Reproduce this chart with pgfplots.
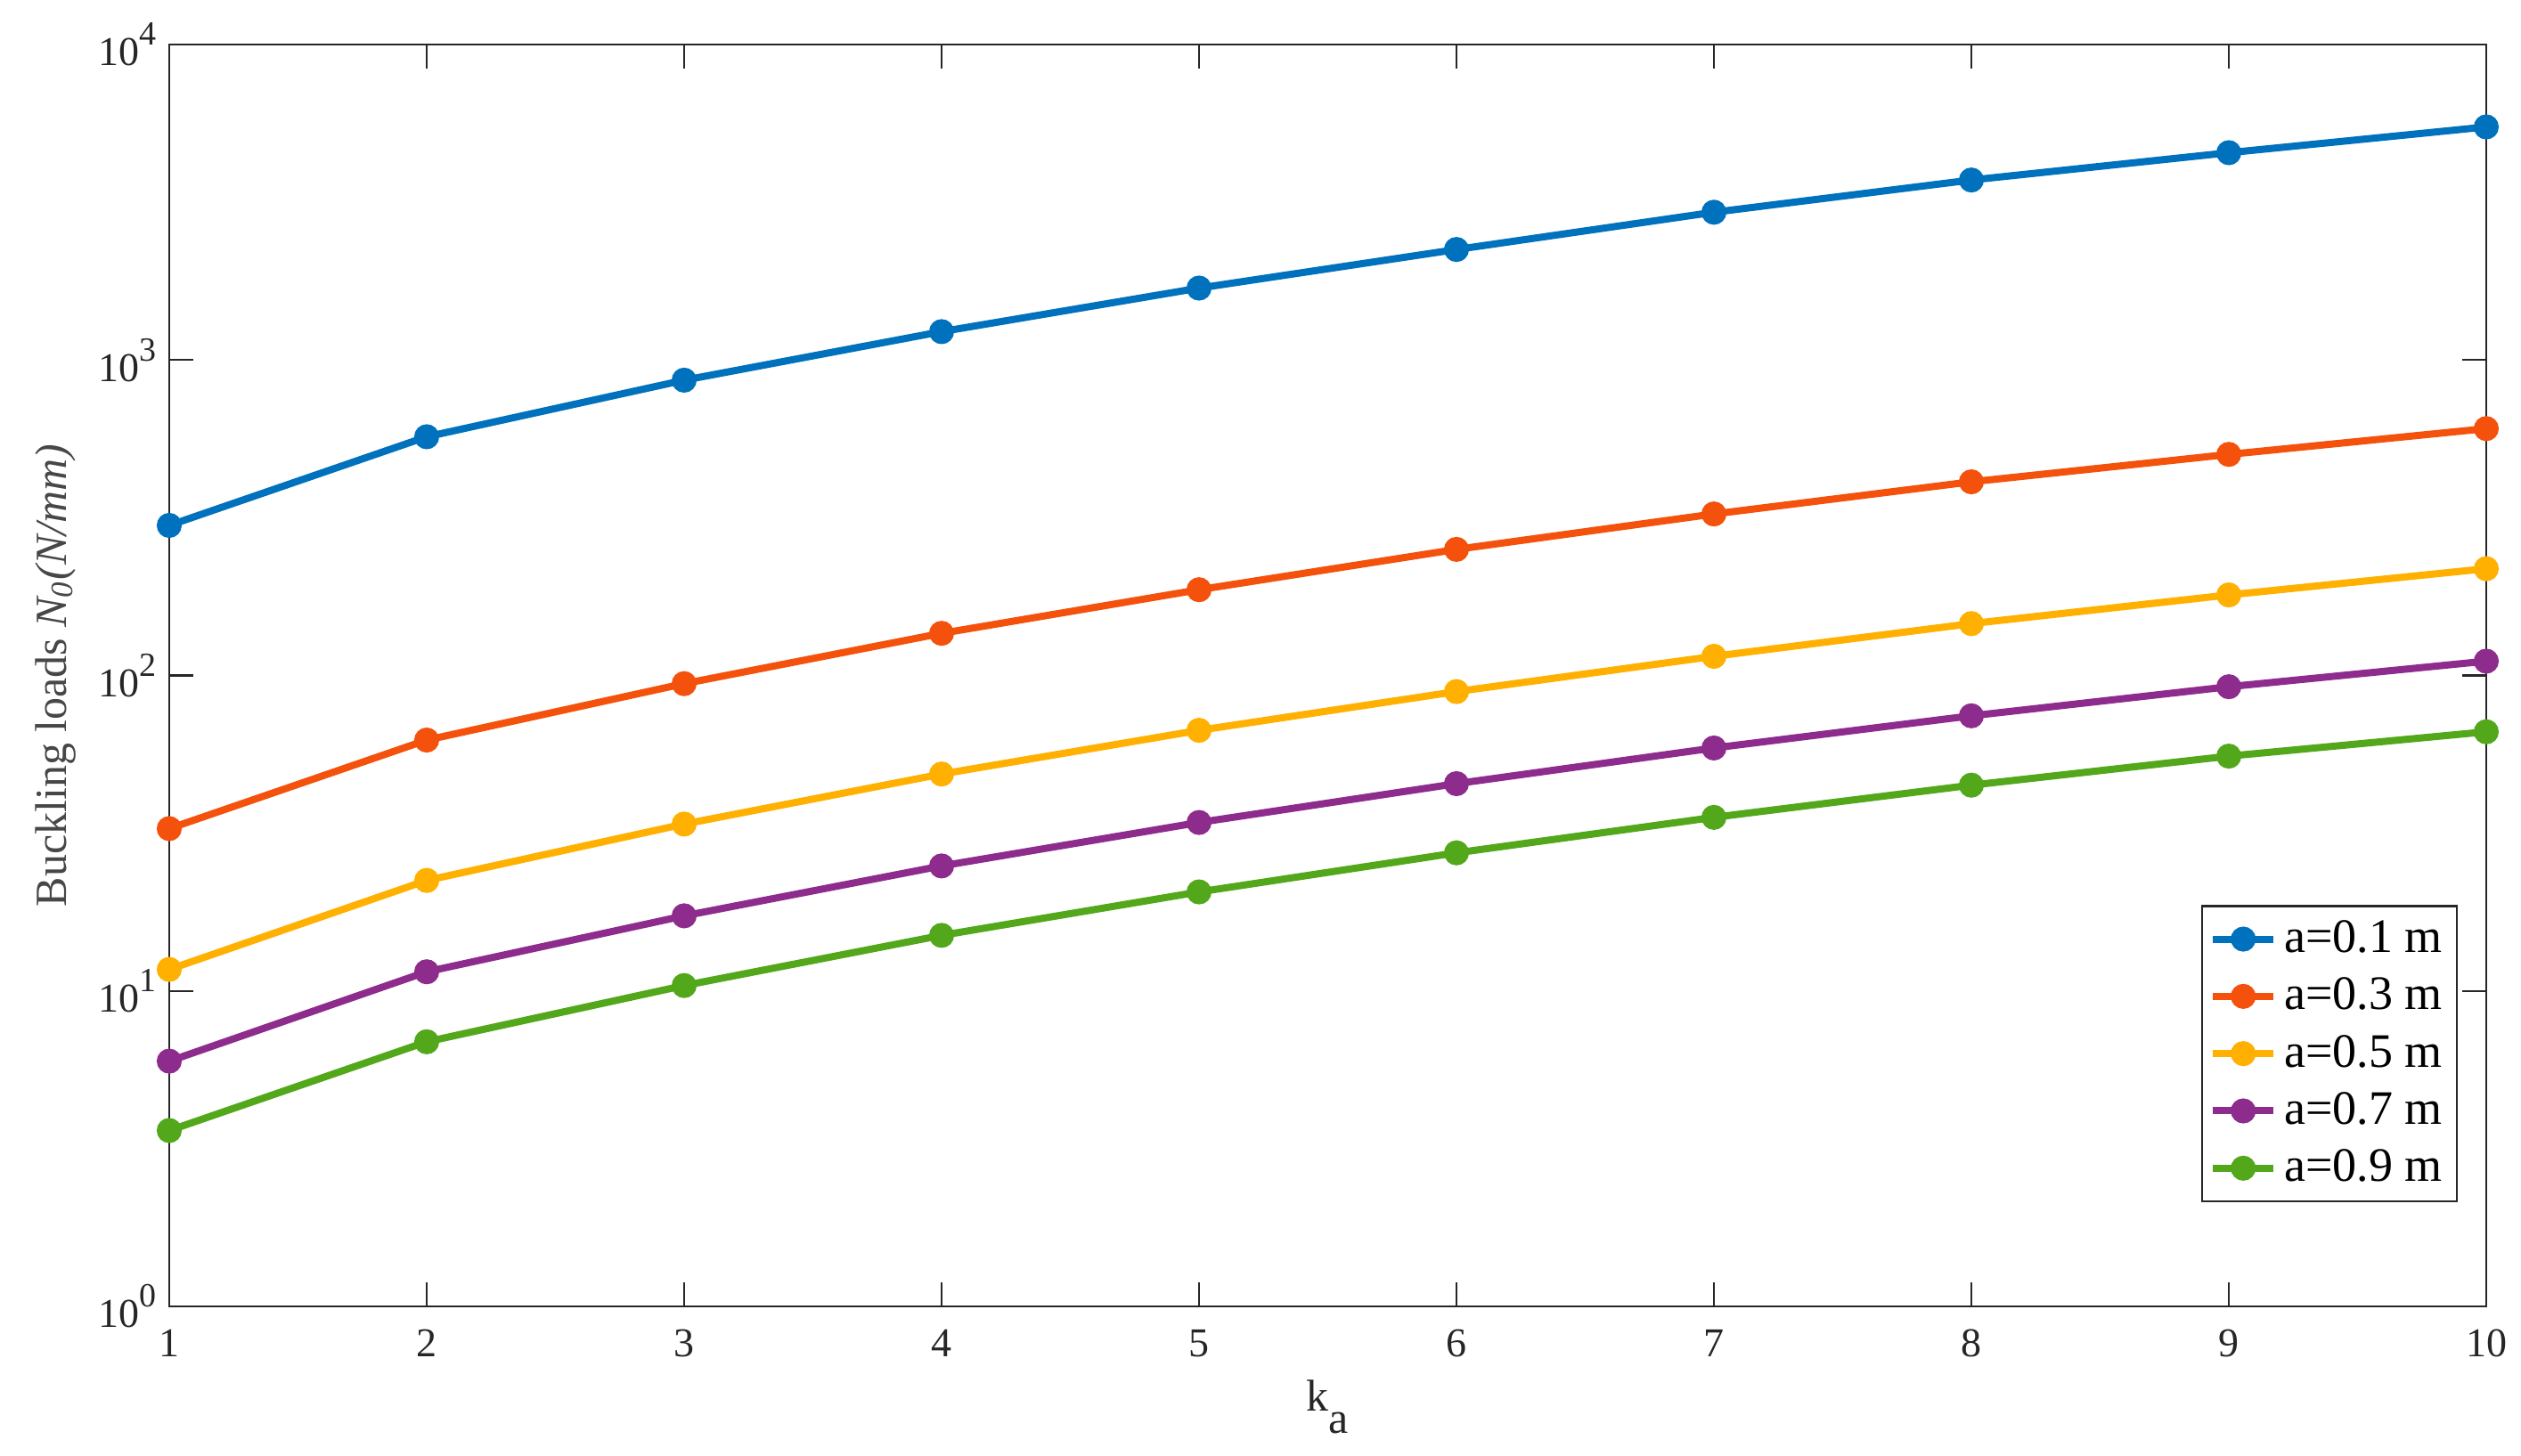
\documentclass[border=0pt]{standalone}
\usepackage{pgfplots}
\pgfplotsset{compat=1.18}
\usetikzlibrary{calc}
\usepackage{fontspec}
\setmainfont{Liberation Serif}
\definecolor{c1}{RGB}{0,114,189}
\definecolor{c2}{RGB}{244,82,12}
\definecolor{c3}{RGB}{255,176,0}
\definecolor{c4}{RGB}{142,44,142}
\definecolor{c5}{RGB}{82,168,26}
\definecolor{tc}{RGB}{38,38,38}
\newcommand{\tp}[1]{10\raisebox{0.5em}{\fontsize{9.5}{9.5}\selectfont #1}}
\begin{document}
\begin{tikzpicture}
\begin{axis}[name=ax,
  scale only axis, width=650.25pt, height=354.25pt,
  ymode=log, log basis y=10,
  xmin=1, xmax=10, ymin=1, ymax=10000,
  xtick={1,2,3,4,5,6,7,8,9,10},
  xticklabels={1,2,3,4,5,6,7,8,9,10},
  ytick={1,10,100,1000,10000},
  yticklabels={\tp{0},\tp{1},\tp{2},\tp{3},\tp{4}},
  /pgf/number format/assume math mode=true,
  tick align=inside,
  major tick length=6.7pt, minor tick length=3.5pt,
  tick style={color=tc, line width=0.6pt},
  axis line style={color=tc, line width=0.6pt},
  ticklabel style={font=\fontsize{11.5}{13}\selectfont, color=tc},
  xticklabel style={yshift=-3pt},
  yticklabel style={xshift=0pt},
  xlabel={k\raisebox{-0.5em}{a}},
  ylabel={Buckling loads \textit{N\textsubscript{0}(N/mm)}},
  every axis x label/.style={at={(axis description cs:0.5,-0.080)}, anchor=center, font=\fontsize{12.5}{14}\selectfont, color=tc},
  every axis y label/.style={at={(axis description cs:-0.049,0.5)}, anchor=center, rotate=90, font=\fontsize{12.5}{14}\selectfont, color=tc!85!white},
  legend style={at={(0.9877,0.0826)}, anchor=south east, draw=tc, line width=0.6pt,
    font=\fontsize{13.5}{15}\selectfont, row sep=1.6pt, inner sep=2pt,
    cells={anchor=west}},
  legend cell align=left,
  every axis plot/.append style={line width=2pt, mark=*, mark size=2.5pt, mark options={solid}},
]
\addplot[color=c1] coordinates {(1,299) (2,571) (3,863) (4,1230) (5,1690) (6,2240) (7,2940) (8,3720) (9,4540) (10,5480)};
\addlegendentry{a=0.1 m}
\addplot[color=c2] coordinates {(1,32.7) (2,62.4) (3,94.2) (4,136) (5,187) (6,251) (7,325) (8,411) (9,502) (10,606)};
\addlegendentry{a=0.3 m}
\addplot[color=c3] coordinates {(1,11.7) (2,22.4) (3,33.8) (4,48.7) (5,67) (6,88.9) (7,115) (8,146) (9,180) (10,218)};
\addlegendentry{a=0.5 m}
\addplot[color=c4] coordinates {(1,5.99) (2,11.5) (3,17.3) (4,24.9) (5,34.2) (6,45.4) (7,58.9) (8,74.5) (9,92.1) (10,111)};
\addlegendentry{a=0.7 m}
\addplot[color=c5] coordinates {(1,3.61) (2,6.9) (3,10.4) (4,15.0) (5,20.6) (6,27.4) (7,35.5) (8,44.9) (9,55.5) (10,66.3)};
\addlegendentry{a=0.9 m}
\end{axis}
\path ($(ax.south west)+(-47.5pt,-41.75pt)$) rectangle ($(ax.north east)+(9.75pt,12.5pt)$);
\end{tikzpicture}
\end{document}
